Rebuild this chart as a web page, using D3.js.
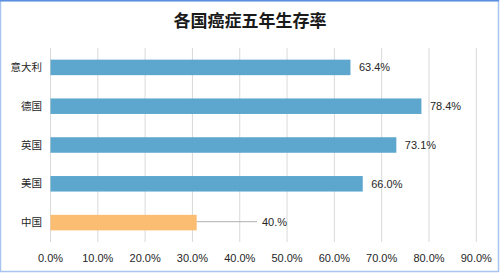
<!DOCTYPE html>
<html lang="zh">
<head>
<meta charset="UTF-8">
<title>各国癌症五年生存率</title>
<script src="https://d3js.org/d3.v7.min.js"></script>
<style>
  body { margin: 0; background: #fff; }
  svg { display: block; }
</style>
</head>
<body>
<script>
// data
var categories = ["意大利", "德国", "英国", "美国", "中国"];
var values = [63.4, 78.4, 73.1, 66.0, 30.9];
var valueLabels = ["63.4%", "78.4%", "73.1%", "66.0%", "40.%"];
var barColors = ["#58a4cc", "#58a4cc", "#58a4cc", "#58a4cc", "#fbbb6d"];
var ticks = [0, 10, 20, 30, 40, 50, 60, 70, 80, 90];

var w = 500, h = 274;
var fontCN = "'Noto Sans CJK SC', sans-serif";
var fontNum = "'Liberation Sans', Arial, sans-serif";

var svg = d3.select("body").append("svg")
  .attr("width", w)
  .attr("height", h);

// chart frame
svg.append("rect")
  .attr("x", 0.5).attr("y", 0.5)
  .attr("width", 498).attr("height", 271)
  .attr("fill", "#fff")
  .attr("stroke", "#a9c4ef")
  .attr("stroke-width", 1.5);
svg.append("line")
  .attr("x1", 0).attr("x2", 499)
  .attr("y1", 0.75).attr("y2", 0.75)
  .attr("stroke", "#5b8fe0").attr("stroke-width", 1.5);

svg.append("text")
  .attr("x", 250).attr("y", 27)
  .attr("text-anchor", "middle")
  .attr("font-family", fontCN)
  .attr("font-size", 17)
  .attr("font-weight", "bold")
  .attr("fill", "#1a1a1a")
  .text("各国癌症五年生存率");

var x = d3.scaleLinear().domain([0, 90]).range([50.5, 476.3]);
var y = d3.scaleBand().domain(categories).range([48, 242])
  .paddingInner(0.6).paddingOuter(0.3);

// gridlines
svg.append("g").selectAll("line")
  .data(ticks).enter().append("line")
  .attr("x1", function(d){ return x(d); })
  .attr("x2", function(d){ return x(d); })
  .attr("y1", 48).attr("y2", 242)
  .attr("stroke", "#d9d9d9").attr("stroke-width", 1);

// x tick labels
svg.append("g").selectAll("text")
  .data(ticks).enter().append("text")
  .attr("x", function(d){ return x(d); })
  .attr("y", 262)
  .attr("text-anchor", "middle")
  .attr("font-family", fontNum)
  .attr("font-size", 11)
  .attr("fill", "#262626")
  .text(function(d){ return d.toFixed(1) + "%"; });

// category labels
svg.append("g").selectAll("text")
  .data(categories).enter().append("text")
  .attr("x", 42)
  .attr("y", function(d){ return y(d) + y.bandwidth() / 2; })
  .attr("dy", "0.35em")
  .attr("text-anchor", "end")
  .attr("font-family", fontCN)
  .attr("font-size", 10.5)
  .attr("fill", "#262626")
  .text(function(d){ return d; });

// bars
svg.append("g").selectAll("rect")
  .data(values).enter().append("rect")
  .attr("x", x(0))
  .attr("y", function(d, i){ return y(categories[i]); })
  .attr("width", function(d){ return x(d) - x(0); })
  .attr("height", y.bandwidth())
  .attr("fill", function(d, i){ return barColors[i]; })
  .attr("fill-opacity", 0.97);

// value labels (last one uses a leader line)
svg.append("g").selectAll("text")
  .data(values).enter().append("text")
  .attr("x", function(d, i){ return i === 4 ? 262 : x(d) + 8.5; })
  .attr("y", function(d, i){ return y(categories[i]) + y.bandwidth() / 2; })
  .attr("dy", "0.35em")
  .attr("font-family", fontNum)
  .attr("font-size", 11)
  .attr("fill", "#262626")
  .text(function(d, i){ return valueLabels[i]; });

svg.append("line")
  .attr("x1", x(values[4])).attr("x2", 257)
  .attr("y1", y(categories[4]) + y.bandwidth() / 2 - 1)
  .attr("y2", y(categories[4]) + y.bandwidth() / 2 - 1)
  .attr("stroke", "#bfbfbf").attr("stroke-width", 1.2);
</script>
</body>
</html>
